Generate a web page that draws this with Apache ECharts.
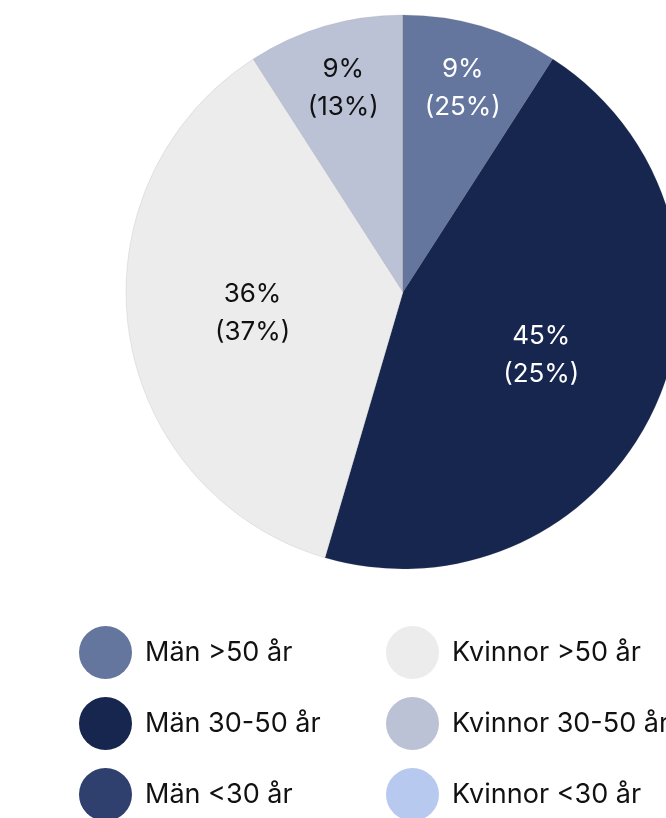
<!DOCTYPE html>
<html><head><meta charset="utf-8">
<script src="https://cdn.jsdelivr.net/npm/echarts@6/dist/echarts.min.js"></script>
<style>html,body{margin:0;padding:0;background:#fff}#c{width:666px;height:818px}</style>
</head><body><div id="c"></div>
<script>
var categories = ['Män >50 år','Män 30-50 år','Män <30 år','Kvinnor >50 år','Kvinnor 30-50 år','Kvinnor <30 år'];
var counts = [1, 5, 0, 4, 1, 0];
var shareLabels = ['9%','45%','0%','36%','9%','0%'];
var compareLabels = ['(25%)','(25%)','','(37%)','(13%)',''];
var colors = ['#64759e','#16264f','#2f3f6e','#ececec','#bbc2d6','#b8c9f0'];
var textColors = ['#ffffff','#ffffff','#ffffff','#111111','#111111','#111111'];
var smallSlice = [true,false,false,false,true,false];

var FONT = 'Inter';
var chart = echarts.init(document.getElementById('c'));

function baseData() {
  return categories.map(function(n,i){ return {name:n, value:counts[i], itemStyle:{color:colors[i]}}; });
}
function labelData(wantSmall) {
  return categories.map(function(n,i){
    var show = counts[i] > 0 && smallSlice[i] === wantSmall;
    return {name:n, value:counts[i],
      label:{show:show, color:textColors[i], formatter: shareLabels[i] + '\n' + compareLabels[i]}};
  });
}
var center = [403, 292];
var labelSeries = function(r, small){
  return {type:'pie', center:center, radius:[0, r], startAngle:90, clockwise:true,
    silent:true, legendHoverLink:false, animation:false,
    itemStyle:{color:'rgba(0,0,0,0)', borderWidth:0},
    label:{position:'inside', fontFamily:FONT, fontSize:26, lineHeight:38},
    labelLine:{show:false}, emphasis:{disabled:true}, tooltip:{show:false},
    data: labelData(small)};
};
function legendCol(left, names){
  return {orient:'vertical', left:left, top:626, height:260, padding:0, icon:'circle',
    itemWidth:53, itemHeight:53, itemGap:18, itemStyle:{borderWidth:0},
    textStyle:{fontFamily:FONT, fontSize:27, color:'#111', padding:[0,0,0,8]},
    data:names};
}
chart.setOption({
  animation:false,
  color: colors,
  legend:[ legendCol(79, categories.slice(0,3)), legendCol(386, categories.slice(3,6)) ],
  series:[
    {type:'pie', center:center, radius:[0, 277], startAngle:90, clockwise:true, animation:false,
     itemStyle:{borderColor:'rgba(120,120,120,0.3)', borderWidth:0.5},
     label:{show:false}, labelLine:{show:false}, emphasis:{scale:false},
     data: baseData()},
    labelSeries(298, false),
    labelSeries(418, true)
  ]
});
</script></body></html>
